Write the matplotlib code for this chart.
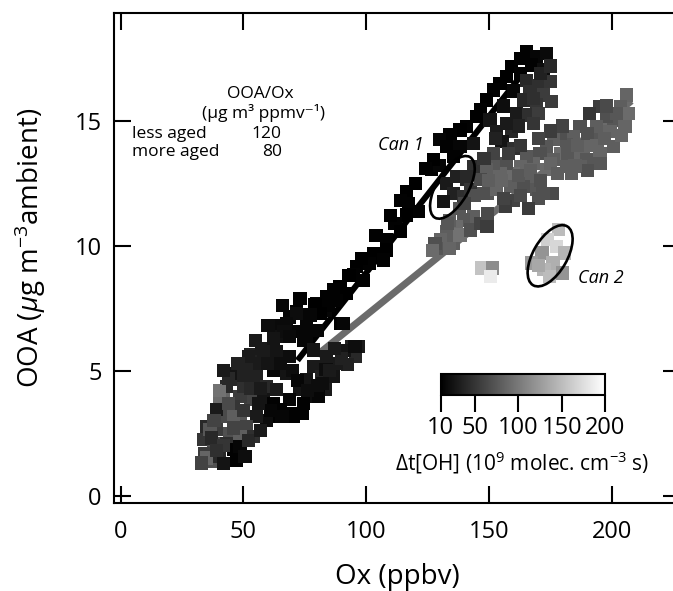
import numpy as np
import matplotlib
matplotlib.use('Agg')
import matplotlib.pyplot as plt
from matplotlib.patches import Ellipse
import matplotlib.transforms as mtransforms

plt.rcParams['font.family'] = ['Open Sans', 'DejaVu Sans']
plt.rcParams['mathtext.fontset'] = 'custom'
plt.rcParams['mathtext.rm'] = 'Open Sans'
plt.rcParams['mathtext.it'] = 'Open Sans:italic'
plt.rcParams['mathtext.bf'] = 'Open Sans:bold'

# lower cluster (Ox ppbv, OOA ug/m3, dt[OH] 1e9 molec cm-3 s)
ox_low = [79.8, 83.2, 71.7, 67.6, 75.7, 62.2, 67.6, 74.3, 71.7, 52.7, 58.1, 63.5, 68.9,
          47.2, 51.3, 56.7, 62.2, 67.6, 78.5, 81.9, 75.7, 83.2, 78.5, 73.0, 68.9, 64.9,
          70.3, 64.9, 59.5, 55.4, 52.7, 48.6, 41.8, 40.4, 45.9, 41.8, 48.6, 51.3, 54.0,
          35.0, 39.1, 44.5, 48.6, 33.7, 37.7, 43.2, 45.9, 48.6, 34.3, 36.4, 40.4, 47.2,
          50.6, 41.8, 39.1, 43.2, 40.4, 49.9, 45.9, 55.4, 59.5, 63.5, 58.1, 62.2, 78.5,
          83.9, 94.0, 95.5, 92.5, 88.0, 86.6, 82.1, 80.6, 74.6, 68.7, 65.7, 89.6, 97.0,
          91.0, 83.6, 68.7, 71.6, 64.9, 62.7, 57.5, 52.2, 47.8, 40.4, 36.4, 35.0, 45.9,
          38.0, 44.0, 37.0, 42.0, 46.0, 50.0, 53.0, 57.0, 60.0, 65.0, 70.0, 72.0, 76.0,
          85.0, 90.0, 87.0, 80.0, 74.0, 61.0, 56.0, 50.0, 44.0, 42.0, 55.0, 60.0, 66.0,
          73.0, 39.0, 52.0, 33.0, 57.0]
ooa_low = [7.70, 7.43, 7.30, 6.90, 6.90, 6.36, 6.36, 6.23, 6.56, 5.63, 5.76, 5.76, 5.56,
           4.63, 5.16, 5.30, 5.02, 4.90, 5.16, 4.76, 4.63, 4.23, 3.96, 4.23, 3.83, 3.43,
           3.16, 3.16, 3.02, 3.16, 3.83, 3.96, 3.96, 3.83, 3.56, 3.16, 3.02, 2.76, 2.36,
           2.76, 2.63, 2.49, 2.36, 2.23, 2.09, 2.09, 1.83, 1.96, 1.69, 1.35, 1.56, 1.42,
           1.56, 1.29, 3.43, 4.36, 3.96, 4.36, 4.90, 4.76, 4.36, 4.23, 3.83, 3.70, 5.83,
           5.56, 5.96, 5.56, 5.23, 5.29, 4.76, 4.49, 3.96, 3.70, 3.30, 3.16, 6.89, 5.96,
           5.82, 5.03, 7.15, 7.35, 6.82, 6.36, 5.89, 5.56, 5.29, 4.20, 2.63, 1.50, 3.16,
           3.00, 3.70, 2.30, 2.00, 2.70, 3.40, 4.30, 4.30, 5.30, 5.30, 5.00, 4.60, 4.20,
           5.00, 5.50, 5.90, 4.40, 3.30, 3.40, 3.70, 4.80, 4.70, 5.00, 6.20, 6.80, 7.60,
           7.90, 1.80, 2.20, 1.30, 2.60]
dt_low = [15, 15, 18, 20, 15, 30, 22, 15, 18, 35, 30, 25, 20,
          40, 35, 30, 15, 25, 30, 35, 25, 30, 20, 25, 15, 12,
          10, 12, 20, 30, 60, 55, 85, 80, 50, 65, 75, 60, 45,
          40, 55, 70, 80, 50, 65, 45, 12, 15, 55, 70, 40, 12,
          20, 25, 30, 40, 90, 45, 25, 35, 40, 30, 25, 12, 25,
          30, 35, 40, 35, 30, 25, 20, 15, 12, 12, 15, 12, 30,
          25, 20, 15, 12, 18, 22, 30, 30, 35, 95, 75, 85, 80,
          60, 65, 40, 50, 60, 50, 40, 30, 25, 20, 20, 15, 20,
          30, 35, 30, 20, 12, 15, 25, 35, 40, 30, 30, 20, 15,
          12, 45, 40, 60, 30]

# less aged band
ox_less = [116.5, 117.2, 121.2, 116.5, 111.7, 113.8, 108.4, 108.4, 102.9, 107.0, 101.5,
           96.1, 94.8, 89.3, 86.6, 92.0, 83.9, 79.1, 84.6, 81.2, 77.1, 71.7, 67.6, 72.3,
           66.3, 62.2, 68.9, 75.7, 90.7, 95.4, 126.7, 130.0, 165.4, 169.5, 173.5, 167.4,
           159.3, 162.7, 172.2, 157.2, 154.5, 151.8, 149.1, 146.4, 150.4, 145.0, 140.9,
           138.2, 134.1, 130.0, 132.8, 138.2, 143.6, 127.3, 135.5, 98.0, 104.0, 110.0,
           114.0, 120.0, 124.0, 88.0, 93.0, 99.0, 80.0, 156.0, 160.0, 163.0]
ooa_less = [12.19, 11.70, 11.37, 11.23, 10.90, 10.57, 10.23, 9.83, 9.70, 9.43, 9.30,
            9.16, 8.83, 8.36, 8.23, 8.10, 7.96, 7.63, 7.63, 7.30, 7.23, 7.30, 6.90, 6.56,
            6.56, 6.30, 6.36, 6.36, 6.90, 5.96, 13.04, 13.20, 17.77, 17.57, 17.70, 17.24,
            17.17, 16.90, 17.04, 16.77, 16.50, 16.24, 15.84, 15.44, 15.04, 15.17, 14.77,
            14.64, 14.44, 14.24, 13.97, 13.97, 14.10, 13.44, 13.57, 9.50, 10.40, 11.20,
            11.80, 12.50, 13.10, 7.80, 8.80, 8.60, 6.60, 15.60, 16.20, 17.50]
dt_less = [10, 12, 12, 10, 12, 10, 12, 10, 10, 12, 12,
           10, 12, 10, 12, 10, 12, 10, 12, 10, 15, 20, 18, 15,
           20, 25, 18, 15, 15, 20, 12, 15, 12, 15, 18, 12,
           10, 12, 20, 10, 10, 12, 10, 12, 25, 10, 12,
           10, 12, 15, 12, 15, 25, 10, 12, 10, 12, 10,
           12, 10, 12, 12, 10, 12, 15, 20, 15, 12]

# upper dark-grey cluster and Can 1 region
ox_mid = [165.4, 170.1, 174.9, 166.7, 172.2, 164.1, 169.5, 161.3, 166.1, 170.1, 168.1,
          153.2, 159.3, 155.3, 160.0, 152.5, 175.6, 132.8, 136.9, 141.0, 135.5, 131.4,
          139.6, 142.4, 146.5, 146.5, 149.2, 143.6, 139.6, 136.9, 132.8, 130.1, 135.5,
          138.2, 142.4, 146.5, 131.4, 149.2, 171.0, 175.0, 168.0, 162.0, 157.0]
ooa_mid = [16.63, 16.43, 16.57, 16.17, 16.04, 15.84, 15.64, 15.30, 15.24, 15.30, 14.90,
           14.57, 14.57, 14.17, 13.90, 14.30, 15.77, 12.50, 12.77, 12.64, 12.10, 11.77,
           11.97, 12.24, 12.64, 13.04, 12.11, 11.17, 11.03, 10.77, 10.57, 10.23, 10.10,
           10.43, 10.63, 10.90, 9.90, 10.77, 16.90, 17.20, 15.90, 14.80, 14.90]
dt_mid = [40, 45, 50, 45, 55, 40, 50, 30, 45, 55, 50,
          30, 40, 25, 45, 35, 55, 30, 35, 40, 35, 25,
          45, 50, 70, 60, 75, 80, 75, 90, 80, 85, 80,
          95, 70, 60, 75, 55, 35, 40, 45, 35, 30]

# more aged band
ox_more = [206.1, 203.4, 206.8, 200.6, 205.4, 195.2, 197.9, 191.1, 193.8, 199.3, 192.4,
           187.1, 184.4, 188.5, 181.7, 179.0, 176.3, 173.5, 179.0, 184.4, 176.3, 170.8,
           168.1, 173.5, 181.7, 165.4, 162.7, 166.7, 160.0, 157.2, 154.5, 151.8, 149.1,
           146.4, 158.6, 164.1, 169.5, 153.2, 147.7, 143.6, 140.9, 189.8, 187.1, 195.2,
           200.6, 195.2, 160.0, 170.0, 176.0, 183.6, 156.7, 149.3, 190.0, 134.0, 138.0,
           144.0, 150.0, 155.0, 162.0, 167.0, 171.0, 175.0, 178.0, 182.0, 186.0, 190.0,
           194.0, 197.0, 202.0, 204.0, 198.0, 185.0, 180.0, 175.0, 170.0, 163.0, 158.0,
           152.0, 148.0, 156.0, 163.0, 172.0, 166.0, 140.0, 133.0, 128.0, 127.0, 134.0]
ooa_more = [16.04, 15.57, 15.30, 15.04, 14.77, 15.57, 15.17, 15.30, 14.77, 14.57, 14.24,
            14.77, 14.37, 13.97, 14.04, 14.50, 14.24, 13.97, 13.70, 13.57, 13.44, 13.70,
            13.30, 13.04, 13.17, 13.57, 13.17, 12.77, 12.90, 13.30, 12.90, 13.30, 13.04,
            12.64, 12.37, 12.37, 12.24, 12.24, 12.10, 13.17, 12.77, 13.44, 13.17, 13.70,
            13.97, 13.30, 11.80, 11.90, 12.10, 12.90, 11.57, 11.30, 13.00, 11.00, 11.50,
            12.00, 12.60, 12.60, 12.80, 13.00, 12.60, 13.30, 12.90, 13.70, 14.00, 14.50,
            14.00, 14.30, 15.30, 14.40, 15.60, 13.20, 14.80, 14.60, 14.30, 14.00, 13.70,
            13.70, 13.50, 11.90, 12.00, 12.10, 11.50, 11.70, 10.90, 10.10, 9.80, 9.90]
dt_more = [85, 80, 90, 75, 85, 55, 70, 50, 80, 85, 75,
           70, 80, 85, 75, 70, 80, 75, 90, 85, 80, 70,
           85, 90, 80, 75, 85, 80, 90, 70, 85, 75, 80,
           65, 80, 70, 75, 85, 70, 45, 40, 75, 80, 85,
           80, 75, 60, 70, 65, 80, 55, 65, 70, 80, 75,
           70, 80, 85, 75, 80, 70, 85, 80, 75, 80, 70,
           85, 80, 75, 85, 65, 80, 60, 55, 60, 50, 55,
           60, 50, 60, 65, 70, 55, 60, 75, 70, 90, 85]

# Can 2 and isolated light points
ox_can2 = [178.4, 173.9, 177.6, 180.6, 171.6, 176.1, 167.2, 172.4, 179.9, 174.6, 170.0,
           147.0, 151.5, 150.7]
ooa_can2 = [10.64, 10.24, 9.97, 9.71, 9.71, 9.31, 9.31, 9.04, 8.91, 8.78, 9.20,
            9.11, 9.11, 8.78]
dt_can2 = [150, 165, 170, 145, 120, 140, 125, 145, 120, 150, 135,
           155, 115, 185]

# fit lines
fit_less_x = [72, 163]
fit_less_y = [5.41, 16.81]
fit_more_x = [80, 208]
fit_more_y = [5.63, 15.80]

cbar_ticks = [10, 50, 100, 150, 200]

ox = np.concatenate([ox_low, ox_less, ox_mid, ox_more, ox_can2])
ooa = np.concatenate([ooa_low, ooa_less, ooa_mid, ooa_more, ooa_can2])
dt = np.concatenate([dt_low, dt_less, dt_mid, dt_more, dt_can2])

fig = plt.figure(figsize=(6.73, 5.91), dpi=100)
ax = fig.add_axes([0.1694, 0.1489, 0.841, 0.8286])

ax.plot(fit_less_x, fit_less_y, color='black', lw=4.3, solid_capstyle='butt', zorder=1)
ax.plot(fit_more_x, fit_more_y, color='#6b6b6b', lw=5, solid_capstyle='butt', zorder=1)
sc = ax.scatter(ox, ooa, c=dt, cmap='gray', vmin=10, vmax=200, marker='s', s=90,
                linewidths=0, zorder=2)

# ellipses drawn in pixel units around a data point
def px_ellipse(cx, cy, w, h, ang):
    tr = fig.dpi_scale_trans + mtransforms.ScaledTranslation(cx, cy, ax.transData)
    e = Ellipse((0, 0), w / 100, h / 100, angle=ang, fill=False, lw=1.9,
                edgecolor='black', transform=tr, zorder=3)
    ax.add_patch(e)

px_ellipse(135.1, 12.34, 70, 32, 60)
px_ellipse(174.9, 9.6, 68, 34, 60)

ax.text(114.1, 14.04, 'Can 1', style='italic', fontsize=13, ha='center', va='center')
ax.text(195.5, 8.71, 'Can 2', style='italic', fontsize=13, ha='center', va='center')

ax.text(56.7, 15.9, 'OOA/Ox', fontsize=12.5, ha='center', va='baseline')
ax.text(58.2, 15.12, '(µg m³ ppmv⁻¹)', fontsize=12.5, ha='center', va='baseline')
ax.text(4.6, 14.32, 'less aged', fontsize=12.5, ha='left', va='baseline')
ax.text(59.5, 14.32, '120', fontsize=12.5, ha='center', va='baseline')
ax.text(4.6, 13.6, 'more aged', fontsize=12.5, ha='left', va='baseline')
ax.text(61.5, 13.6, '80', fontsize=12.5, ha='center', va='baseline')

ax.set_xlim(-2.73, 227.8)
ax.set_ylim(-0.30, 19.31)
ax.set_xticks([0, 50, 100, 150, 200])
ax.set_yticks([0, 5, 10, 15])
ax.tick_params(direction='in', length=12, width=1.5, labelsize=17,
               top=True, right=True)
ax.tick_params(axis='x', pad=12)
ax.tick_params(axis='y', pad=9)
for s in ax.spines.values():
    s.set_linewidth(1.5)

fig.text(397 / 673, 1 - 577 / 591, 'Ox (ppbv)', fontsize=20, ha='center', va='center')
fig.text(30 / 673, 1 - 248 / 591, r'OOA ($\mu$g m$^{-3}$ambient)', fontsize=20,
         rotation=90, ha='center', va='center')

cax = fig.add_axes([0.6548, 0.3316, 0.2441, 0.0355])
cb = fig.colorbar(sc, cax=cax, orientation='horizontal', ticks=cbar_ticks)
cb.outline.set_linewidth(1.5)
cax.tick_params(direction='out', length=12, width=1.5, labelsize=17, pad=3)
fig.text(522.5 / 673, 1 - 463 / 591, r'$\Delta$t[OH] (10$^{9}$ molec. cm$^{-3}$ s)',
         fontsize=15, ha='center', va='center')

fig.savefig('out.png', dpi=100)
